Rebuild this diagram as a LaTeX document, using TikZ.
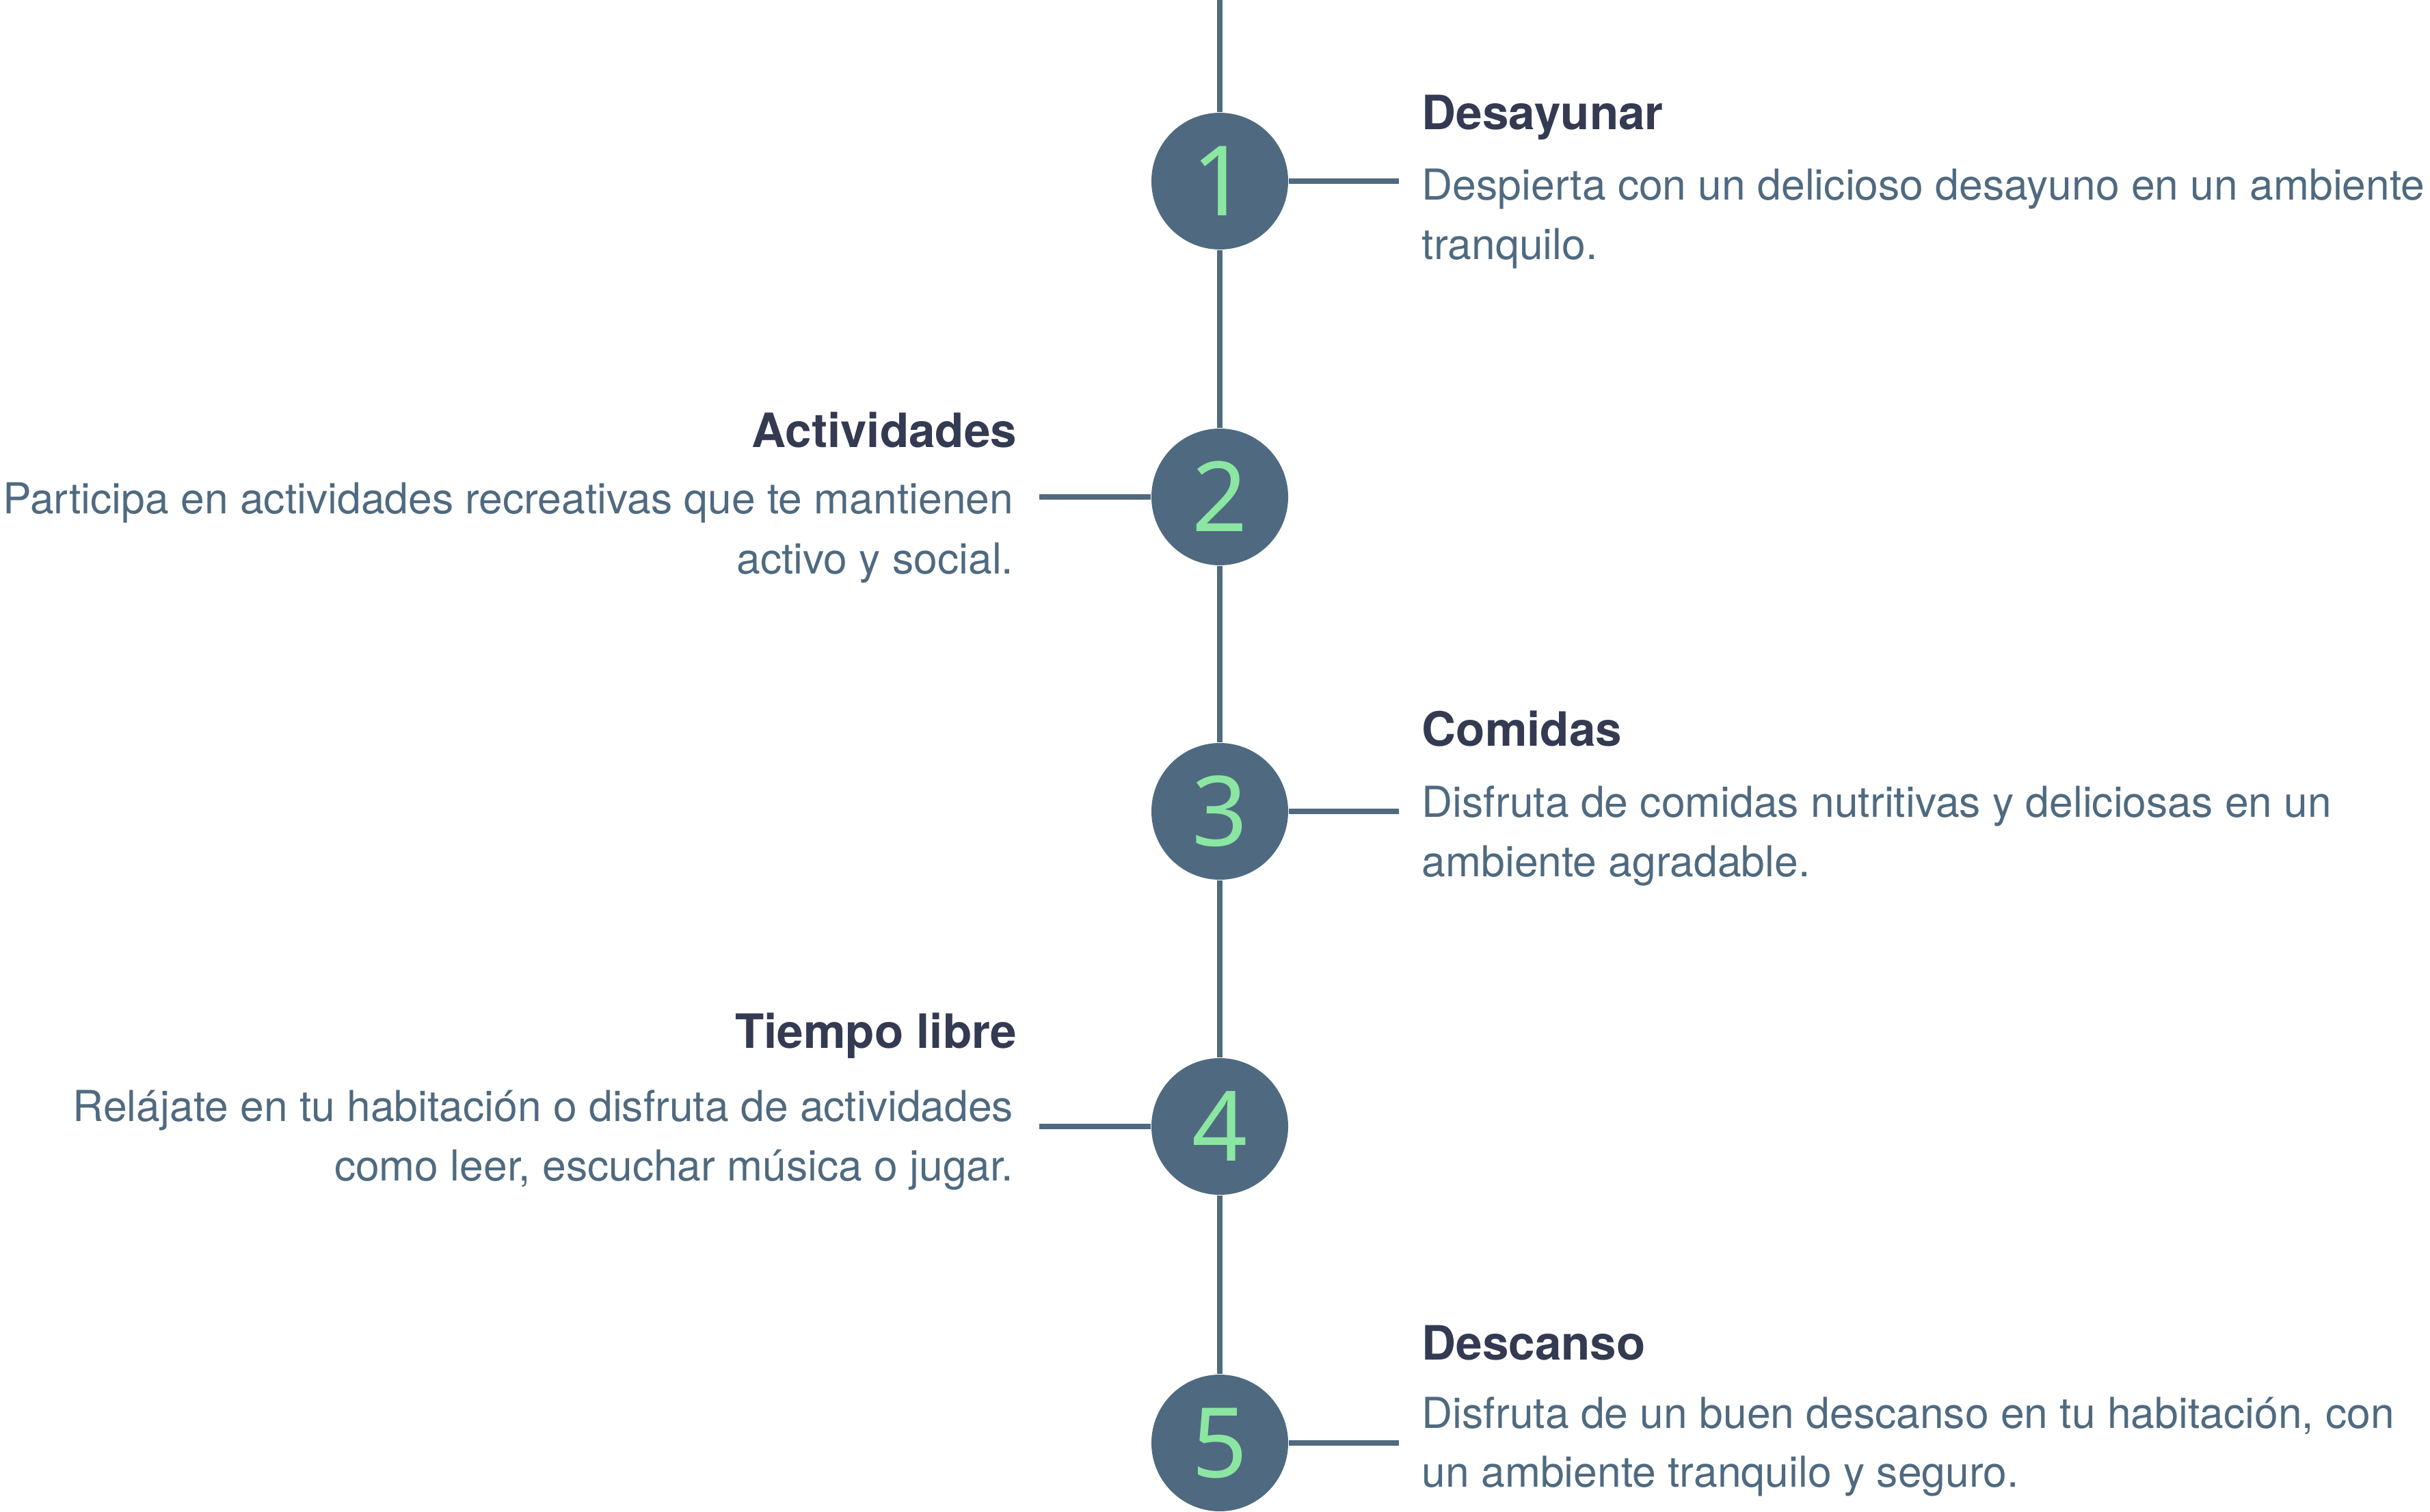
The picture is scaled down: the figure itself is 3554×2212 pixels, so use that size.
\documentclass[tikz,border=0pt]{standalone}
\usepackage{fontspec}
\setmainfont{TeX Gyre Heros}
\newfontfamily\numfont{Noto Sans}
\definecolor{slate1}{rgb}{0.31,0.416,0.502}
\definecolor{navy1}{rgb}{0.2,0.227,0.322}
\definecolor{mint1}{rgb}{0.545,0.902,0.635}

\begin{document}
\begin{tikzpicture}[x=0.25pt,y=-0.25pt,
    spine/.style={draw=slate1,line width=2.1pt},
    stepdot/.style={circle,fill=slate1,minimum size=50pt,inner sep=0pt},
    numlabel/.style={text=mint1,font=\numfont\fontsize{35.5}{36}\selectfont,anchor=base,inner sep=0pt},
    titlelabel/.style={text=navy1,font=\fontsize{17.3}{20}\selectfont\bfseries,inner sep=0pt},
    bodyline/.style={text=slate1,font=\fontsize{15.6}{20}\selectfont,inner sep=0pt}]
    \useasboundingbox (0,0) rectangle (3554,2212);
    \coordinate (top) at (1784,0);
    \foreach \n/\y in {1/265,2/727,3/1187,4/1648,5/2111}{
      \node[stepdot] (c\n) at (1784,\y) {};
    }
    \draw[spine] (top) -- (c1);
    \foreach \a/\b in {1/2,2/3,3/4,4/5}{
      \draw[spine] (c\a) -- (c\b);
    }
    \foreach \n/\y in {1/265,2/727,3/1187,4/1648,5/2111}{
      \node[numlabel] (n\n) at (1784,\y+50.5) {\n};
    }
    % connectors to the texts
    \coordinate (e1) at (2046,265);
    \coordinate (e2) at (1520,727);
    \coordinate (e3) at (2046,1187);
    \coordinate (e4) at (1520,1648);
    \coordinate (e5) at (2046,2111);
    \foreach \n in {1,...,5}{
      \draw[spine] (c\n) -- (e\n);
    }

    \node[titlelabel,anchor=base west] (h1) at (2079,190) {Desayunar};
    \node[bodyline,anchor=base west] (d1a) at (2079,293) {Despierta con un delicioso desayuno en un ambiente};
    \node[bodyline,anchor=base west] (d1b) at (2079,380) {tranquilo.};

    \node[titlelabel,anchor=base east] (h2) at (1488,655) {Actividades};
    \node[bodyline,anchor=base east] (d2a) at (1483,752) {Participa en actividades recreativas que te mantienen};
    \node[bodyline,anchor=base east] (d2b) at (1483,840) {activo y social.};

    \node[titlelabel,anchor=base west] (h3) at (2079,1091) {Comidas};
    \node[bodyline,anchor=base west] (d3a) at (2079,1195) {Disfruta de comidas nutritivas y deliciosas en un};
    \node[bodyline,anchor=base west] (d3b) at (2079,1282) {ambiente agradable.};

    \node[titlelabel,anchor=base east] (h4) at (1488,1533) {Tiempo libre};
    \node[bodyline,anchor=base east] (d4a) at (1483,1640) {Relájate en tu habitación o disfruta de actividades};
    \node[bodyline,anchor=base east] (d4b) at (1483,1727) {como leer, escuchar música o jugar.};

    \node[titlelabel,anchor=base west] (h5) at (2079,1989) {Descanso};
    \node[bodyline,anchor=base west] (d5a) at (2079,2089) {Disfruta de un buen descanso en tu habitación, con};
    \node[bodyline,anchor=base west] (d5b) at (2079,2175) {un ambiente tranquilo y seguro.};
  \end{tikzpicture}
\end{document}
